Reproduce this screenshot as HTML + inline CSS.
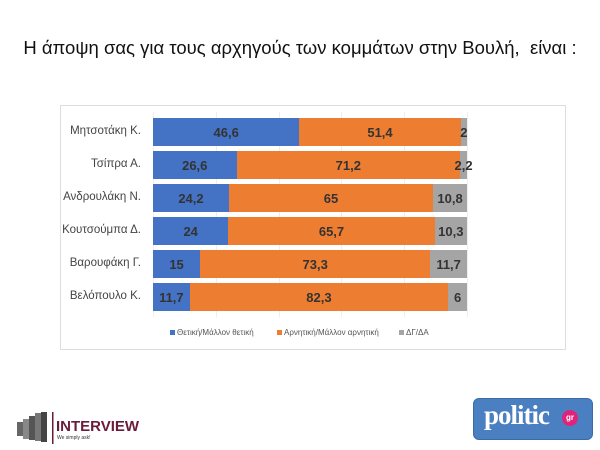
<!DOCTYPE html>
<html><head><meta charset="utf-8"><style>
body{margin:0;width:600px;height:450px;background:#fff;font-family:"Liberation Sans","DejaVu Sans",sans-serif;position:relative;overflow:hidden}
.t{position:absolute;left:0;width:600px;top:37px;text-align:center;font-size:18.5px;color:#111}
.frame{position:absolute;left:60px;top:105px;width:504px;height:243px;border:1px solid #ddd}
.row{position:absolute;left:153px;height:28px;width:314px;display:flex}
.row div{height:100%;display:flex;align-items:center;justify-content:center;font-weight:bold;font-size:13px;color:#333}
.b{background:#4472c4}.o{background:#ed7d31}.g{background:#a5a5a5}
.lab{position:absolute;right:459px;font-size:11.5px;color:#444;text-align:right;white-space:nowrap}
.grid{position:absolute;top:112px;height:205px;width:1px;background:#eee}
.leg{position:absolute;top:328px;font-size:8px;color:#555}
.leg i{display:inline-block;width:5px;height:5px;margin-right:2px}
</style></head><body>
<div class="t">Η άποψη σας για τους αρχηγούς των κομμάτων στην Βουλή,&nbsp; είναι :</div>
<div class="frame"></div>
<div class="grid" style="left:153px"></div><div class="grid" style="left:216px"></div><div class="grid" style="left:279px"></div><div class="grid" style="left:341px"></div><div class="grid" style="left:404px"></div><div class="grid" style="left:467px"></div>

<div class="lab" style="top:125px">Μητσοτάκη Κ.</div>
<div class="row" style="top:118px"><div class="b" style="width:46.6%">46,6</div><div class="o" style="width:51.4%">51,4</div><div class="g" style="width:2%">2</div></div>
<div class="lab" style="top:158px">Τσίπρα Α.</div>
<div class="row" style="top:151px"><div class="b" style="width:26.6%">26,6</div><div class="o" style="width:71.2%">71,2</div><div class="g" style="width:2.2%">2,2</div></div>
<div class="lab" style="top:191px">Ανδρουλάκη Ν.</div>
<div class="row" style="top:184px"><div class="b" style="width:24.2%">24,2</div><div class="o" style="width:65%">65</div><div class="g" style="width:10.8%">10,8</div></div>
<div class="lab" style="top:224px">Κουτσούμπα Δ.</div>
<div class="row" style="top:217px"><div class="b" style="width:24%">24</div><div class="o" style="width:65.7%">65,7</div><div class="g" style="width:10.3%">10,3</div></div>
<div class="lab" style="top:257px">Βαρουφάκη Γ.</div>
<div class="row" style="top:250px"><div class="b" style="width:15%">15</div><div class="o" style="width:73.3%">73,3</div><div class="g" style="width:11.7%">11,7</div></div>
<div class="lab" style="top:290px">Βελόπουλο Κ.</div>
<div class="row" style="top:283px"><div class="b" style="width:11.7%">11,7</div><div class="o" style="width:82.3%">82,3</div><div class="g" style="width:6%">6</div></div>

<div class="leg" style="left:170px"><i class="b"></i>Θετική/Μάλλον θετική</div>
<div class="leg" style="left:277px"><i class="o"></i>Αρνητική/Μάλλον αρνητική</div>
<div class="leg" style="left:399px"><i class="g"></i>ΔΓ/ΔΑ</div>

<svg style="position:absolute;left:15px;top:410px" width="140" height="36">
<rect x="2" y="12" width="6" height="14" fill="#666"/><rect x="8" y="9" width="6" height="20" fill="#888"/><rect x="14" y="6" width="6" height="24" fill="#555"/><rect x="20" y="3" width="6" height="28" fill="#777"/><rect x="26" y="2" width="6" height="30" fill="#444"/>
<rect x="37" y="2" width="1.5" height="32" fill="#6b1a3a"/>
<text x="41" y="21" font-family="Liberation Sans" font-weight="bold" font-size="15" fill="#6b1a3a">INTERVIEW</text>
<text x="42" y="29" font-family="Liberation Sans" font-size="5" fill="#333">We simply ask!</text>
</svg>
<div style="position:absolute;left:473px;top:398px;width:118px;height:40px;background:#4a7fc1;border-radius:6px;border:1px solid #3a6aa8"></div>
<div style="position:absolute;left:484px;top:400px;font:bold 27px 'Liberation Serif',serif;color:#fff;letter-spacing:-1px">politic</div>
<div style="position:absolute;left:562px;top:410px;width:16px;height:16px;border-radius:50%;background:#e0237a;color:#fff;font:bold 8px 'Liberation Sans';text-align:center;line-height:16px">gr</div>
</body></html>
